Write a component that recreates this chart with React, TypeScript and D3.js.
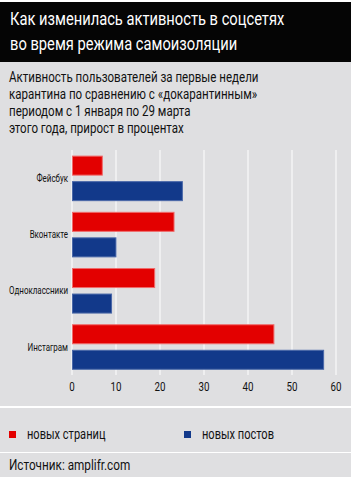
import { useEffect, useRef } from "react";
import * as d3 from "d3";

const categories = ["Фейсбук", "Вконтакте", "Одноклассники", "Инстаграм"];
const seriesNames = ["новых страниц", "новых постов"];
const newPages = [7, 23.3, 18.9, 46];
const newPosts = [25.2, 10.1, 9.1, 57.3];
const ticks = [0, 10, 20, 30, 40, 50, 60];

const titleLines = ["Как изменилась активность в соцсетях", "во время режима самоизоляции"];
const subtitleLines = [
  "Активность пользователей за первые недели",
  "карантина по сравнению с «докарантинным»",
  "периодом с 1 января по 29 марта",
  "этого года, прирост в процентах",
];
const source = "Источник: amplifr.com";

const W = 351;
const H = 485;
const BG = "#dfdfe1";
const RED = "#e30000";
const BLUE = "#12398a";
const FONT = "Roboto, 'Noto Sans', sans-serif";

type Sel = d3.Selection<SVGGElement, unknown, null, undefined>;

// the original uses a condensed face; squeeze a regular one horizontally
function label(
  parent: Sel,
  x: number,
  y: number,
  txt: string,
  size: number,
  opts: { fill?: string; anchor?: string; dy?: string; sq?: number } = {}
) {
  parent
    .append("text")
    .attr("transform", `translate(${x},${y}) scale(${opts.sq ?? 0.78},1)`)
    .attr("text-anchor", opts.anchor ?? "start")
    .attr("dy", opts.dy ?? null)
    .attr("fill", opts.fill ?? "#111")
    .attr("font-family", FONT)
    .attr("font-size", size)
    .text(txt);
}

export default function App() {
  const svgRef = useRef<SVGSVGElement>(null);

  useEffect(() => {
    document.body.style.margin = "0";
    if (!svgRef.current) return;
    const svg = d3.select(svgRef.current);
    svg.selectAll("*").remove();
    const root = svg.append("g") as unknown as Sel;

    root.append("rect").attr("width", W).attr("height", H).attr("fill", "#fff");

    // title block
    root.append("rect").attr("x", 0).attr("y", 2).attr("width", W).attr("height", 60).attr("fill", "#050505");
    titleLines.forEach((t, i) => label(root, 10, 25 + i * 25, t, 18.5, { fill: "#fff", sq: 0.795 }));

    // main panel
    root.append("rect").attr("x", 0).attr("y", 62).attr("width", W).attr("height", 344).attr("fill", BG);
    subtitleLines.forEach((t, i) => label(root, 9, 82 + i * 17, t, 14, { sq: 0.825 }));

    const rows = categories.map((c, i) => ({ cat: c, vals: [newPages[i], newPosts[i]] }));

    const x = d3.scaleLinear().domain([0, 60]).range([72, 336]);
    const y0 = d3.scaleBand<string>().domain(categories).range([150, 375.4]).paddingInner(0.19).paddingOuter(0.1);
    const y1 = d3.scaleBand<string>().domain(seriesNames).range([0, y0.bandwidth()]).paddingInner(0.216);
    const colors = d3.scaleOrdinal<string, string>().domain(seriesNames).range([RED, BLUE]);

    // gridlines
    root
      .append("g")
      .selectAll("line")
      .data(ticks)
      .join("line")
      .attr("x1", (d) => x(d))
      .attr("x2", (d) => x(d))
      .attr("y1", 150)
      .attr("y2", 375)
      .attr("stroke", "#fff")
      .attr("stroke-width", 1);

    // bars
    const groups = root
      .append("g")
      .selectAll("g")
      .data(rows)
      .join("g")
      .attr("transform", (d) => `translate(0,${y0(d.cat)})`);

    groups
      .selectAll("rect")
      .data((d) => d.vals.map((v, j) => ({ key: seriesNames[j], v })))
      .join("rect")
      .attr("x", x(0) + 0.5)
      .attr("y", (d) => y1(d.key)! + 0.5)
      .attr("width", (d) => x(d.v) - x(0) - 1)
      .attr("height", y1.bandwidth() - 1)
      .attr("fill", (d) => colors(d.key))
      .attr("stroke", (d) => (d.key === seriesNames[0] ? "#f06a6a" : "#4a68a8"))
      .attr("stroke-width", 1);

    // category labels
    categories.forEach((c) =>
      label(root, 68, y0(c)! + y0.bandwidth() / 2, c, 10.2, { anchor: "end", dy: "0.35em" })
    );

    // tick labels
    ticks.forEach((t) => label(root, x(t), 391, String(t), 12.5, { anchor: "middle" }));

    // legend panel
    root.append("rect").attr("x", 0).attr("y", 408).attr("width", W).attr("height", 44).attr("fill", BG);
    const legendX = [9, 184];
    seriesNames.forEach((s, i) => {
      root
        .append("rect")
        .attr("x", legendX[i])
        .attr("y", 431)
        .attr("width", 7)
        .attr("height", 7)
        .attr("fill", colors(s));
      label(root, legendX[i] + 18, 438.5, s, 14, { sq: 0.79 });
    });

    // source panel
    root.append("rect").attr("x", 0).attr("y", 453).attr("width", W).attr("height", 24).attr("fill", BG);
    label(root, 9, 470, source, 14, { sq: 0.84 });
  }, []);

  return <svg ref={svgRef} width={W} height={H} style={{ display: "block" }} />;
}
